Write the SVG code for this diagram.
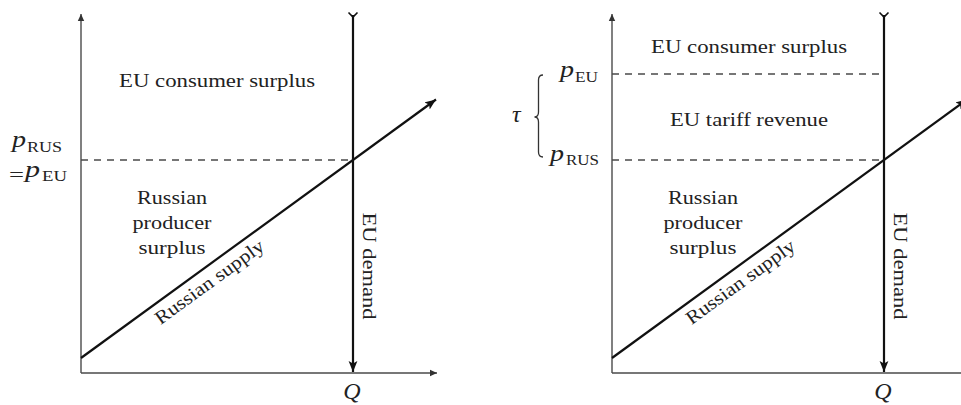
<svg xmlns="http://www.w3.org/2000/svg" width="961" height="405" viewBox="0 0 961 405">
  <style>
    .txt { font-family: "Liberation Serif", "DejaVu Serif", serif; font-size: 19px; fill: #222; }
    .mi { font-family: "Liberation Serif", "DejaVu Serif", serif; font-style: italic; font-size: 24px; fill: #222; }
    .sub { font-family: "Liberation Serif", "DejaVu Serif", serif; font-size: 14.5px; fill: #222; }
    .axis { stroke: #4a4a4a; stroke-width: 1.4; fill: none; }
    .dash { stroke: #4a4a4a; stroke-width: 1.3; stroke-dasharray: 7 6; fill: none; }
    .curve { stroke: #111; stroke-width: 2.2; fill: none; }
    .brace { stroke: #333; stroke-width: 1.3; fill: none; }
  </style>
  <defs>
    <marker id="axarr" markerUnits="userSpaceOnUse" markerWidth="9" markerHeight="8" refX="7" refY="4" orient="auto">
      <path d="M0,0.8 L7,4 L0,7.2 Z" fill="#333"/>
    </marker>
    <marker id="barr" markerUnits="userSpaceOnUse" markerWidth="13" markerHeight="10" refX="11" refY="5" orient="auto">
      <path d="M0,0.6 L11,5 L0,9.4 L2.5,5 Z" fill="#111"/>
    </marker>
  </defs>
  <rect width="961" height="405" fill="#ffffff"/>

  <!-- LEFT PANEL -->
  <g id="left-axes">
    <line class="axis" x1="81" y1="373" x2="81" y2="14" marker-end="url(#axarr)"/>
    <line class="axis" x1="81" y1="373" x2="437" y2="373" marker-end="url(#axarr)"/>
  </g>
  <g id="left-connectors">
    <line class="dash" x1="81" y1="160" x2="353" y2="160"/>
    <line class="curve" x1="81" y1="358" x2="436" y2="99.5" marker-end="url(#barr)"/>
    <line class="curve" x1="353" y1="15" x2="353" y2="372" marker-end="url(#barr)"/>
    <path d="M348.5,12.5 L353,17 L357.5,12.5" stroke="#111" stroke-width="1.6" fill="none"/>
  </g>
  <g id="left-labels">
    <g id="left-price-label">
      <text class="mi" x="12" y="147" textLength="14" lengthAdjust="spacingAndGlyphs">p</text>
      <text class="sub" x="27" y="151.5" textLength="35" lengthAdjust="spacingAndGlyphs">RUS</text>
      <text class="txt" x="9" y="181" font-size="22" textLength="15" lengthAdjust="spacingAndGlyphs">=</text>
      <text class="mi" x="25" y="177" textLength="15" lengthAdjust="spacingAndGlyphs">p</text>
      <text class="sub" x="42" y="181" textLength="25" lengthAdjust="spacingAndGlyphs">EU</text>
    </g>
    <text id="left-ecs" class="txt" x="217" y="87" text-anchor="middle" textLength="196" lengthAdjust="spacingAndGlyphs">EU consumer surplus</text>
    <g id="left-rps">
      <text class="txt" x="172" y="204" text-anchor="middle" textLength="70" lengthAdjust="spacingAndGlyphs">Russian</text>
      <text class="txt" x="172" y="229" text-anchor="middle" textLength="79" lengthAdjust="spacingAndGlyphs">producer</text>
      <text class="txt" x="172" y="254" text-anchor="middle" textLength="67" lengthAdjust="spacingAndGlyphs">surplus</text>
    </g>
    <text id="left-supply-label" class="txt" transform="translate(213,287) rotate(-36)" text-anchor="middle" textLength="130" lengthAdjust="spacingAndGlyphs">Russian supply</text>
    <text id="left-demand-label" class="txt" transform="translate(363,266) rotate(90)" text-anchor="middle" textLength="107" lengthAdjust="spacingAndGlyphs">EU demand</text>
    <text id="left-q" class="mi" x="352" y="399" font-size="19" text-anchor="middle">Q</text>
  </g>

  <!-- RIGHT PANEL -->
  <g id="right-axes">
    <line class="axis" x1="612" y1="373" x2="612" y2="14" marker-end="url(#axarr)"/>
    <line class="axis" x1="612" y1="373" x2="968" y2="373" marker-end="url(#axarr)"/>
  </g>
  <g id="right-connectors">
    <line class="dash" x1="612" y1="74" x2="884" y2="74"/>
    <line class="dash" x1="612" y1="160" x2="884" y2="160"/>
    <line class="curve" x1="612" y1="358" x2="967" y2="99.5" marker-end="url(#barr)"/>
    <line class="curve" x1="884" y1="15" x2="884" y2="372" marker-end="url(#barr)"/>
    <path d="M879.5,12.5 L884,17 L888.5,12.5" stroke="#111" stroke-width="1.6" fill="none"/>
  </g>
  <g id="right-labels">
    <g id="right-peu-label">
      <text class="mi" x="560" y="77" textLength="14" lengthAdjust="spacingAndGlyphs">p</text>
      <text class="sub" x="575" y="81.5" textLength="23" lengthAdjust="spacingAndGlyphs">EU</text>
    </g>
    <g id="right-prus-label">
      <text class="mi" x="550" y="161" textLength="14" lengthAdjust="spacingAndGlyphs">p</text>
      <text class="sub" x="566" y="165" textLength="33" lengthAdjust="spacingAndGlyphs">RUS</text>
    </g>
    <g id="tau-brace">
      <path class="brace" d="M543,75 Q538.5,75 538.5,80 L538.5,112 Q538.5,117 534.5,117 Q538.5,117 538.5,122 L538.5,152 Q538.5,157 543,157"/>
      <text class="mi" x="512" y="122" font-size="22">τ</text>
    </g>
    <text id="right-ecs" class="txt" x="749" y="53" text-anchor="middle" textLength="196" lengthAdjust="spacingAndGlyphs">EU consumer surplus</text>
    <text id="right-tariff" class="txt" x="749" y="126" text-anchor="middle" textLength="158" lengthAdjust="spacingAndGlyphs">EU tariff revenue</text>
    <g id="right-rps">
      <text class="txt" x="703" y="204" text-anchor="middle" textLength="70" lengthAdjust="spacingAndGlyphs">Russian</text>
      <text class="txt" x="703" y="229" text-anchor="middle" textLength="79" lengthAdjust="spacingAndGlyphs">producer</text>
      <text class="txt" x="703" y="254" text-anchor="middle" textLength="67" lengthAdjust="spacingAndGlyphs">surplus</text>
    </g>
    <text id="right-supply-label" class="txt" transform="translate(744,287) rotate(-36)" text-anchor="middle" textLength="130" lengthAdjust="spacingAndGlyphs">Russian supply</text>
    <text id="right-demand-label" class="txt" transform="translate(894,266) rotate(90)" text-anchor="middle" textLength="107" lengthAdjust="spacingAndGlyphs">EU demand</text>
    <text id="right-q" class="mi" x="883" y="399" font-size="19" text-anchor="middle">Q</text>
  </g>
</svg>
